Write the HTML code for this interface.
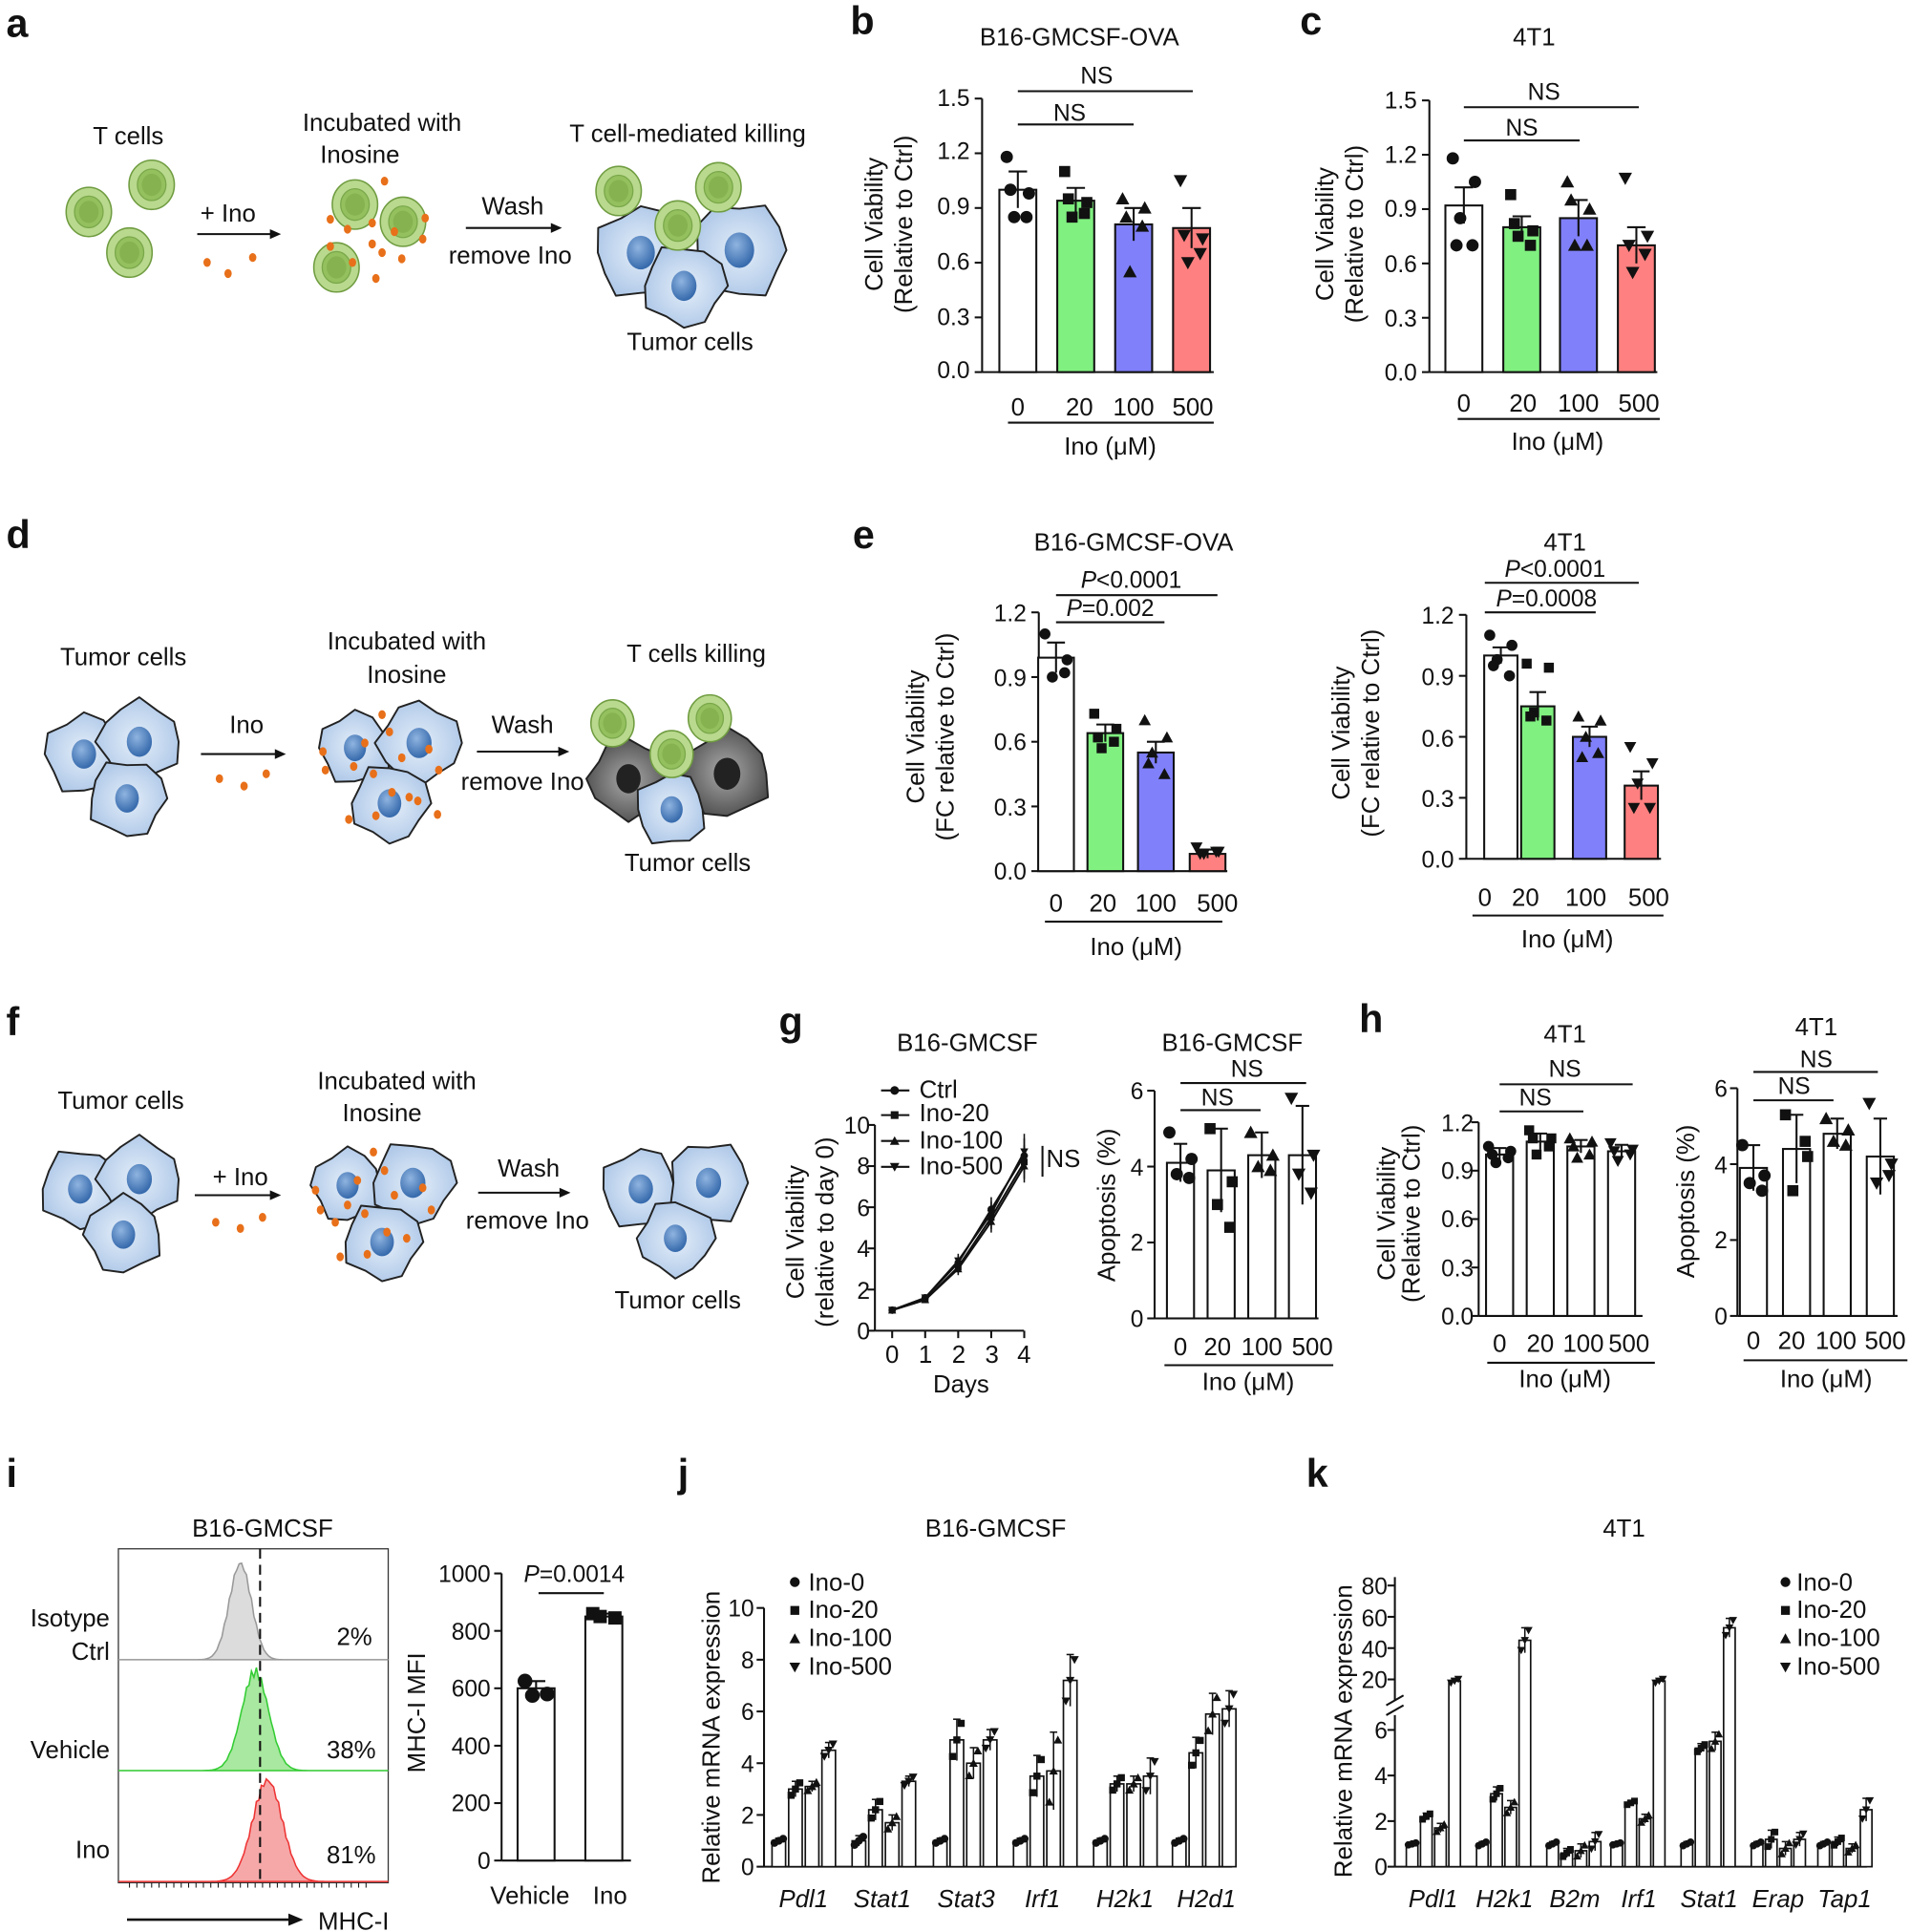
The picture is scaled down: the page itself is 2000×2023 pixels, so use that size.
<!DOCTYPE html>
<html><head><meta charset="utf-8"><style>
html,body{margin:0;padding:0;background:#fff}
svg{display:block}
text{font-family:"Liberation Sans",Arial,sans-serif;fill:#111}
.t{font-size:20px}.s{font-size:19px}.L{font-size:32px;font-weight:bold}.it{font-style:italic}
</style></head><body>
<svg id="s" xmlns="http://www.w3.org/2000/svg" width="2000" height="2023" viewBox="0 0 1550 1568">
<defs>
<radialGradient id="nuc" cx="0.4" cy="0.35" r="0.7"><stop offset="0" stop-color="#8fb4e0"/><stop offset="1" stop-color="#2f64a8"/></radialGradient>
<radialGradient id="cyt" cx="0.5" cy="0.5" r="0.6"><stop offset="0" stop-color="#e4eef9"/><stop offset="1" stop-color="#a9c4e6"/></radialGradient>
<radialGradient id="dk" cx="0.5" cy="0.5" r="0.6"><stop offset="0" stop-color="#aaa"/><stop offset="1" stop-color="#444"/></radialGradient>
</defs>
<g id="g"></g>
<text class="L" x="5" y="30">a</text><text class="L" x="690" y="28">b</text><text class="L" x="1055" y="28">c</text>
<text class="L" x="5" y="445">d</text><text class="L" x="692" y="445">e</text>
<text class="L" x="5" y="840">f</text><text class="L" x="632" y="840">g</text><text class="L" x="1103" y="838">h</text>
<text class="L" x="5" y="1207">i</text><text class="L" x="550" y="1207">j</text><text class="L" x="1060" y="1207">k</text>
<!-- a -->
<text class="t" x="104" y="117" text-anchor="middle">T cells</text>
<text class="t" x="310" y="106" text-anchor="middle">Incubated  with</text>
<text class="t" x="292" y="132" text-anchor="middle">Inosine</text>
<text class="t" x="558" y="115" text-anchor="middle">T cell-mediated killing</text>
<text class="t" x="185" y="180" text-anchor="middle">+ Ino</text>
<text class="t" x="416" y="174" text-anchor="middle">Wash</text>
<text class="t" x="414" y="214" text-anchor="middle">remove Ino</text>
<text class="t" x="560" y="284" text-anchor="middle">Tumor cells</text>
<!-- d -->
<text class="t" x="100" y="540" text-anchor="middle">Tumor cells</text>
<text class="t" x="330" y="527" text-anchor="middle">Incubated  with</text>
<text class="t" x="330" y="554" text-anchor="middle">Inosine</text>
<text class="t" x="565" y="537" text-anchor="middle">T cells killing</text>
<text class="t" x="200" y="595" text-anchor="middle">Ino</text>
<text class="t" x="424" y="595" text-anchor="middle">Wash</text>
<text class="t" x="424" y="641" text-anchor="middle">remove Ino</text>
<text class="t" x="558" y="707" text-anchor="middle">Tumor cells</text>
<!-- f -->
<text class="t" x="98" y="900" text-anchor="middle">Tumor cells</text>
<text class="t" x="322" y="884" text-anchor="middle">Incubated with</text>
<text class="t" x="310" y="910" text-anchor="middle">Inosine</text>
<text class="t" x="195" y="962" text-anchor="middle">+ Ino</text>
<text class="t" x="429" y="955" text-anchor="middle">Wash</text>
<text class="t" x="428" y="997" text-anchor="middle">remove Ino</text>
<text class="t" x="550" y="1062" text-anchor="middle">Tumor cells</text>
<!-- b -->
<text class="t" x="876" y="37" text-anchor="middle">B16-GMCSF-OVA</text>
<text class="s" x="890" y="68" text-anchor="middle">NS</text><text class="s" x="868" y="98" text-anchor="middle">NS</text>
<g class="s" text-anchor="end"><text x="787" y="86">1.5</text><text x="787" y="129">1.2</text><text x="787" y="174">0.9</text><text x="787" y="219">0.6</text><text x="787" y="264">0.3</text><text x="787" y="307">0.0</text></g>
<g class="t" text-anchor="middle"><text x="826" y="337">0</text><text x="876" y="337">20</text><text x="920" y="337">100</text><text x="968" y="337">500</text><text x="901" y="369">Ino (μM)</text></g>
<text class="t" transform="translate(716,182) rotate(-90)" text-anchor="middle">Cell Viability</text>
<text class="t" transform="translate(740,182) rotate(-90)" text-anchor="middle">(Relative to Ctrl)</text>
<!-- c -->
<text class="t" x="1245" y="37" text-anchor="middle">4T1</text>
<text class="s" x="1253" y="81" text-anchor="middle">NS</text><text class="s" x="1235" y="110" text-anchor="middle">NS</text>
<g class="s" text-anchor="end"><text x="1150" y="88">1.5</text><text x="1150" y="132">1.2</text><text x="1150" y="176">0.9</text><text x="1150" y="221">0.6</text><text x="1150" y="265">0.3</text><text x="1150" y="309">0.0</text></g>
<g class="t" text-anchor="middle"><text x="1188" y="334">0</text><text x="1236" y="334">20</text><text x="1281" y="334">100</text><text x="1330" y="334">500</text><text x="1264" y="365">Ino (μM)</text></g>
<text class="t" transform="translate(1082,190) rotate(-90)" text-anchor="middle">Cell Viability</text>
<text class="t" transform="translate(1106,190) rotate(-90)" text-anchor="middle">(Relative to Ctrl)</text>
<!-- e left -->
<text class="t" x="920" y="447" text-anchor="middle">B16-GMCSF-OVA</text>
<text class="s it" x="918" y="477" text-anchor="middle">P<tspan font-style="normal">&lt;0.0001</tspan></text>
<text class="s it" x="901" y="500" text-anchor="middle">P<tspan font-style="normal">=0.002</tspan></text>
<g class="s" text-anchor="end"><text x="833" y="504">1.2</text><text x="833" y="557">0.9</text><text x="833" y="609">0.6</text><text x="833" y="662">0.3</text><text x="833" y="714">0.0</text></g>
<g class="t" text-anchor="middle"><text x="857" y="740">0</text><text x="895" y="740">20</text><text x="938" y="740">100</text><text x="988" y="740">500</text><text x="922" y="775">Ino (μM)</text></g>
<text class="t" transform="translate(750,598) rotate(-90)" text-anchor="middle">Cell Viability</text>
<text class="t" transform="translate(774,598) rotate(-90)" text-anchor="middle">(FC relative to Ctrl)</text>
<!-- e right -->
<text class="t" x="1270" y="447" text-anchor="middle">4T1</text>
<text class="s it" x="1262" y="468" text-anchor="middle">P<tspan font-style="normal">&lt;0.0001</tspan></text>
<text class="s it" x="1255" y="492" text-anchor="middle">P<tspan font-style="normal">=0.0008</tspan></text>
<g class="s" text-anchor="end"><text x="1180" y="506">1.2</text><text x="1180" y="556">0.9</text><text x="1180" y="606">0.6</text><text x="1180" y="655">0.3</text><text x="1180" y="704">0.0</text></g>
<g class="t" text-anchor="middle"><text x="1205" y="735">0</text><text x="1238" y="735">20</text><text x="1287" y="735">100</text><text x="1338" y="735">500</text><text x="1272" y="769">Ino (μM)</text></g>
<text class="t" transform="translate(1095,595) rotate(-90)" text-anchor="middle">Cell Viability</text>
<text class="t" transform="translate(1119,595) rotate(-90)" text-anchor="middle">(FC relative to Ctrl)</text>
<!-- g left -->
<text class="t" x="785" y="853" text-anchor="middle">B16-GMCSF</text>
<g class="t"><text x="746" y="891">Ctrl</text><text x="746" y="910">Ino-20</text><text x="746" y="932">Ino-100</text><text x="746" y="953">Ino-500</text><text x="849" y="947">NS</text></g>
<g class="s" text-anchor="end"><text x="706" y="920">10</text><text x="706" y="953">8</text><text x="706" y="987">6</text><text x="706" y="1020">4</text><text x="706" y="1054">2</text><text x="706" y="1087">0</text></g>
<g class="t" text-anchor="middle"><text x="724" y="1106">0</text><text x="751" y="1106">1</text><text x="778" y="1106">2</text><text x="805" y="1106">3</text><text x="831" y="1106">4</text><text x="780" y="1130">Days</text></g>
<text class="t" transform="translate(652,1000) rotate(-90)" text-anchor="middle">Cell Viability</text>
<text class="t" transform="translate(676,1000) rotate(-90)" text-anchor="middle">(relative to day 0)</text>
<!-- g right -->
<text class="t" x="1000" y="853" text-anchor="middle">B16-GMCSF</text>
<text class="s" x="1012" y="874" text-anchor="middle">NS</text><text class="s" x="988" y="897" text-anchor="middle">NS</text>
<g class="s" text-anchor="end"><text x="928" y="892">6</text><text x="928" y="954">4</text><text x="928" y="1015">2</text><text x="928" y="1077">0</text></g>
<g class="t" text-anchor="middle"><text x="958" y="1100">0</text><text x="988" y="1100">20</text><text x="1024" y="1100">100</text><text x="1065" y="1100">500</text><text x="1013" y="1128">Ino (μM)</text></g>
<text class="t" transform="translate(905,978) rotate(-90)" text-anchor="middle">Apoptosis (%)</text>
<!-- h left -->
<text class="t" x="1270" y="846" text-anchor="middle">4T1</text>
<text class="s" x="1270" y="874" text-anchor="middle">NS</text><text class="s" x="1246" y="897" text-anchor="middle">NS</text>
<g class="s" text-anchor="end"><text x="1196" y="918">1.2</text><text x="1196" y="957">0.9</text><text x="1196" y="996">0.6</text><text x="1196" y="1036">0.3</text><text x="1196" y="1075">0.0</text></g>
<g class="t" text-anchor="middle"><text x="1217" y="1097">0</text><text x="1250" y="1097">20</text><text x="1285" y="1097">100</text><text x="1322" y="1097">500</text><text x="1270" y="1126">Ino (μM)</text></g>
<text class="t" transform="translate(1132,985) rotate(-90)" text-anchor="middle">Cell Viability</text>
<text class="t" transform="translate(1152,985) rotate(-90)" text-anchor="middle">(Relative to Ctrl)</text>
<!-- h right -->
<text class="t" x="1474" y="840" text-anchor="middle">4T1</text>
<text class="s" x="1474" y="866" text-anchor="middle">NS</text><text class="s" x="1456" y="888" text-anchor="middle">NS</text>
<g class="s" text-anchor="end"><text x="1402" y="890">6</text><text x="1402" y="952">4</text><text x="1402" y="1013">2</text><text x="1402" y="1075">0</text></g>
<g class="t" text-anchor="middle"><text x="1423" y="1095">0</text><text x="1454" y="1095">20</text><text x="1490" y="1095">100</text><text x="1530" y="1095">500</text><text x="1482" y="1126">Ino (μM)</text></g>
<text class="t" transform="translate(1375,975) rotate(-90)" text-anchor="middle">Apoptosis (%)</text>
<!-- i -->
<text class="t" x="213" y="1247" text-anchor="middle">B16-GMCSF</text>
<g class="t" text-anchor="end"><text x="89" y="1320">Isotype</text><text x="89" y="1347">Ctrl</text><text x="89" y="1427">Vehicle</text><text x="89" y="1508">Ino</text></g>
<g class="t" text-anchor="end"><text x="302" y="1335">2%</text><text x="305" y="1427">38%</text><text x="305" y="1512">81%</text></g>
<text class="t" x="258" y="1566">MHC-I</text>
<text class="s it" x="466" y="1284" text-anchor="middle">P<tspan font-style="normal">=0.0014</tspan></text>
<g class="s" text-anchor="end"><text x="398" y="1284">1000</text><text x="398" y="1331">800</text><text x="398" y="1377">600</text><text x="398" y="1424">400</text><text x="398" y="1470">200</text><text x="398" y="1517">0</text></g>
<g class="t" text-anchor="middle"><text x="430" y="1545">Vehicle</text><text x="495" y="1545">Ino</text></g>
<text class="t" transform="translate(345,1390) rotate(-90)" text-anchor="middle">MHC-I MFI</text>
<!-- j -->
<text class="t" x="808" y="1247" text-anchor="middle">B16-GMCSF</text>
<g class="t"><text x="656" y="1291">Ino-0</text><text x="656" y="1313">Ino-20</text><text x="656" y="1336">Ino-100</text><text x="656" y="1359">Ino-500</text></g>
<g class="s" text-anchor="end"><text x="612" y="1312">10</text><text x="612" y="1354">8</text><text x="612" y="1396">6</text><text x="612" y="1438">4</text><text x="612" y="1480">2</text><text x="612" y="1522">0</text></g>
<g class="t it" text-anchor="middle"><text x="652" y="1548">Pdl1</text><text x="716" y="1548">Stat1</text><text x="784" y="1548">Stat3</text><text x="846" y="1548">Irf1</text><text x="913" y="1548">H2k1</text><text x="979" y="1548">H2d1</text></g>
<text class="t" transform="translate(584,1410) rotate(-90)" text-anchor="middle">Relative mRNA expression</text>
<!-- k -->
<text class="t" x="1318" y="1247" text-anchor="middle">4T1</text>
<g class="t"><text x="1458" y="1291">Ino-0</text><text x="1458" y="1313">Ino-20</text><text x="1458" y="1336">Ino-100</text><text x="1458" y="1359">Ino-500</text></g>
<g class="s" text-anchor="end"><text x="1126" y="1294">80</text><text x="1126" y="1320">60</text><text x="1126" y="1345">40</text><text x="1126" y="1370">20</text><text x="1126" y="1411">6</text><text x="1126" y="1448">4</text><text x="1126" y="1485">2</text><text x="1126" y="1522">0</text></g>
<g class="t it" text-anchor="middle"><text x="1163" y="1548">Pdl1</text><text x="1221" y="1548">H2k1</text><text x="1278" y="1548">B2m</text><text x="1330" y="1548">Irf1</text><text x="1387" y="1548">Stat1</text><text x="1443" y="1548">Erap</text><text x="1497" y="1548">Tap1</text></g>
<text class="t" transform="translate(1097,1405) rotate(-90)" text-anchor="middle">Relative mRNA expression</text>
</svg>
<script>
const ns="http://www.w3.org/2000/svg",G=document.getElementById('g');
function el(t,a,p){const e=document.createElementNS(ns,t);for(const k in a)e.setAttribute(k,a[k]);(p||G).appendChild(e);return e}
function ln(x1,y1,x2,y2,w,c,d){const o={x1,y1,x2,y2,stroke:c||'#111','stroke-width':w||1.6};if(d)o['stroke-dasharray']=d;el('line',o)}
function mk(x,y,t,r){r=r||5;const f='#111';
 if(t==0)el('circle',{cx:x,cy:y,r:r,fill:f});
 else if(t==1)el('rect',{x:x-r*0.9,y:y-r*0.9,width:r*1.8,height:r*1.8,fill:f});
 else if(t==2)el('polygon',{points:`${x},${y-r*1.1} ${x-r*1.1},${y+r*0.9} ${x+r*1.1},${y+r*0.9}`,fill:f});
 else el('polygon',{points:`${x},${y+r*1.1} ${x-r*1.1},${y-r*0.9} ${x+r*1.1},${y-r*0.9}`,fill:f});}
const COL=['#fff','#80f080','#8080fa','#ff8080'];
const JIT=[-9,9,-3,7,-6,4];
function chart(o){const Y=v=>o.yb-v*o.k;
 ln(o.ax,Y(o.tmax),o.ax,o.yb);o.ticks.forEach(t=>ln(o.ax-6,Y(t),o.ax,Y(t)));
 ln(o.ax,o.yb,o.xend,o.yb);
 o.bars.forEach((b,i)=>{const [cx,v,e,pts]=b;const w=o.w;
  el('rect',{x:cx-w/2,y:Y(v),width:w,height:o.yb-Y(v),fill:o.col?COL[i%4]:'#fff',stroke:'#111','stroke-width':1.6});
  ln(cx,Y(v-e),cx,Y(v+e));ln(cx-w*0.25,Y(v+e),cx+w*0.25,Y(v+e));
  (pts||[]).forEach((p,j)=>mk(cx+JIT[j]*(o.js||1),Y(p),o.shape!=null?o.shape:i%4,o.r));});
 return Y;}
let Y=chart({ax:797,yb:302,k:148,tmax:1.5,ticks:[0,.3,.6,.9,1.2,1.5],xend:985,w:30,col:1,bars:[
[826,1,.1,[1.18,.98,.85,.85,1.0]],[873,.94,.07,[1.1,.93,.85,.87,.95]],[920,.81,.09,[.95,.9,.55,.8,.85]],[967,.79,.11,[1.05,.73,.6,.65,.75]]]});
ln(826,74,968,74);ln(826,101,920,101);ln(818,343,985,343);
Y=chart({ax:1160,yb:302,k:147,tmax:1.5,ticks:[0,.3,.6,.9,1.2,1.5],xend:1345,w:30,col:1,bars:[
[1188,.92,.1,[1.18,1.05,.85,.7,.7]],[1235,.8,.06,[.98,.78,.75,.7,.82]],[1281,.85,.1,[1.05,.9,.7,.7,.95]],[1328,.7,.1,[1.07,.75,.55,.65,.7]]]});
ln(1188,87,1330,87);ln(1188,114,1282,114);ln(1183,340,1347,340);
Y=chart({ax:843,yb:707,k:175,tmax:1.2,ticks:[0,.3,.6,.9,1.2],xend:996,w:29,col:1,r:4.5,bars:[
[857,.99,.07,[1.1,.98,.9,.92]],[897,.64,.04,[.73,.66,.57,.6,.62]],[938,.55,.05,[.7,.62,.55,.45,.5]],[980,.08,.02,[.11,.09,.08,.09,.08]]]});
ln(857,483,988,483);ln(857,505,945,505);ln(848,748,992,748);
Y=chart({ax:1190,yb:697,k:165,tmax:1.2,ticks:[0,.3,.6,.9,1.2],xend:1348,w:27,col:1,r:4.5,bars:[
[1218,1,.04,[1.1,1.05,.98,.9,.95]],[1248,.75,.07,[.96,.94,.72,.68,.7]],[1290,.6,.05,[.7,.68,.6,.52,.5]],[1332,.36,.07,[.55,.47,.37,.25,.25]]]});
ln(1205,473,1330,473);ln(1205,497,1295,497);ln(1195,743,1350,743);
{const Yg=v=>1080-v*16.7,X=d=>724+26.8*d;ln(710,Yg(10),710,1080);[0,2,4,6,8,10].forEach(t=>ln(704,Yg(t),710,Yg(t)));
 ln(710,1080,831,1080);[0,1,2,3,4].forEach(d=>ln(X(d),1080,X(d),1086));
 const S=[[1,1.6,3.3,5.9,8.5],[1,1.5,3.1,5.5,8.2],[1,1.5,3.0,5.3,8.0],[1,1.6,3.4,5.7,8.7]];
 S.forEach((s,i)=>{el('polyline',{points:s.map((v,d)=>X(d)+','+Yg(v)).join(' '),fill:'none',stroke:'#111','stroke-width':1.6});
  s.forEach((v,d)=>{mk(X(d),Yg(v),i,3);ln(X(d),Yg(v*0.9),X(d),Yg(v*1.1),1.2)});});
 [885,905,926,947].forEach((y,i)=>{ln(715,y,738,y);mk(726,y,i,3.5)});ln(846,930,846,955);}
chart({ax:937,yb:1070,k:30.8,tmax:6,ticks:[0,2,4,6],xend:1070,w:22,r:5,bars:[
[958,4.1,.5,[4.9,4.2,3.8,3.7]],[991,3.9,1.1,[5.0,3.6,3.0,2.4]],[1024,4.3,.6,[4.9,4.3,4.0,3.9]],[1057,4.3,1.3,[5.8,4.3,3.8,3.3]]]});
ln(958,879,1060,879);ln(958,901,1023,901);ln(945,1108,1082,1108);
chart({ax:1200,yb:1068,k:131,tmax:1.2,ticks:[0,.3,.6,.9,1.2],xend:1333,w:22,r:4.5,bars:[
[1217,1.0,.04,[1.05,1.02,.95,.98,1.0]],[1250,1.08,.05,[1.15,1.1,1.0,1.05,1.1]],[1283,1.05,.04,[1.1,1.08,.98,1.0,1.05]],[1316,1.02,.04,[1.07,1.03,.96,1.0,1.02]]]});
ln(1217,880,1325,880);ln(1217,902,1285,902);ln(1207,1106,1343,1106);
chart({ax:1410,yb:1068,k:30.8,tmax:6,ticks:[0,2,4,6],xend:1540,w:22,r:5,bars:[
[1423,3.9,.6,[4.5,3.7,3.5,3.3]],[1458,4.4,.9,[5.3,4.2,3.3,4.6]],[1491,4.8,.4,[5.2,4.9,4.6,4.5]],[1526,4.2,1.0,[5.6,4.0,3.5,3.7]]]});
ln(1423,870,1524,870);ln(1423,893,1488,893);ln(1415,1104,1548,1104);
chart({ax:407,yb:1510,k:.233,tmax:1000,ticks:[0,200,400,600,800,1000],xend:512,w:30,r:6,bars:[
[435,600,25,[625,580,575]],[490,850,10,[860,845,850]]]});
ln(437,1293,490,1293);
el('rect',{x:96,y:1257,width:219,height:271,fill:'none',stroke:'#333','stroke-width':1});
ln(96,1347,315,1347,1,'#ccc');ln(96,1437,315,1437,1,'#ccc');
function hist(c,base,h,sd,fill,stroke){let p=`M96,${base}`;for(let x=96;x<=315;x+=2){const y=base-h*Math.exp(-((x-c)**2)/(2*sd*sd))*(1+0.05*Math.sin(x*1.7));p+=` L${x},${y.toFixed(1)}`}p+=` L315,${base} Z`;el('path',{d:p,fill:fill,stroke:stroke,'stroke-width':1.2})}
hist(195,1347,78,9,'#dcdcdc','#999');hist(207,1437,80,11,'#a8e8a0','#33cc33');hist(217,1527,82,12,'#f6a8a8','#ee3333');
ln(211,1257,211,1528,1.6,'#111','8,5');
for(let x=105;x<300;x+=6)ln(x,1528,x,1532,0.8);
el('line',{x1:103,y1:1558,x2:238,y2:1558,stroke:'#111','stroke-width':2});el('polygon',{points:'246,1558 234,1553 234,1563',fill:'#111'});
{const Yj=v=>1515-v*21;ln(620,Yj(10),620,1515);[0,2,4,6,8,10].forEach(t=>ln(614,Yj(t),620,Yj(t)));ln(620,1515,1000,1515);
 const D=[[632,[1,3,3.1,4.5],[.1,.3,.2,.3]],[697,[1,2.2,1.7,3.3],[.2,.4,.3,.2]],[763,[1,4.9,4,4.9],[.1,.8,.6,.4]],[828,[1,3.5,3.7,7.2],[.1,.8,1.5,1]],[893,[1,3.2,3.2,3.5],[.1,.3,.3,.7]],[957,[1,4.4,5.9,6.1],[.1,.6,.8,.7]]];
 D.forEach(([x0,vs,es])=>vs.forEach((v,i)=>{const cx=x0+i*13.5;el('rect',{x:cx-5.5,y:Yj(v),width:11,height:1515-Yj(v),fill:'#fff',stroke:'#111','stroke-width':1.3});
  ln(cx,Yj(v-es[i]),cx,Yj(v+es[i]),1.2);ln(cx-3,Yj(v+es[i]),cx+3,Yj(v+es[i]),1.2);
  [-1,0,1].forEach(k=>mk(cx+k*3.5,Yj(v+k*es[i]*0.8),i,3.2));}));
 [1284,1307,1330,1353].forEach((y,i)=>mk(645,y,i,4));}
{const Yk=v=>v<=6?1515-v*18.5:1363-(v-20)*1.27;ln(1132,1280,1132,1380);ln(1132,1392,1132,1515);
 [20,40,60,80].forEach(t=>ln(1126,Yk(t),1132,Yk(t)));[0,2,4,6].forEach(t=>ln(1126,Yk(t),1132,Yk(t)));
 ln(1125,1384,1139,1376);ln(1125,1392,1139,1384);ln(1132,1515,1515,1515);
 const D=[[1146,[1,2.2,1.7,19],[.05,.15,.2,1.5]],[1203,[1,3.2,2.6,45],[.1,.3,.3,8]],[1260,[1,.6,.7,1.1],[.1,.2,.3,.4]],[1312,[1,2.8,2.1,19],[.05,.1,.2,1.5]],[1369,[1,5.2,5.5,53],[.1,.2,.4,6]],[1426,[1,1.2,.8,1.2],[.1,.4,.3,.3]],[1480,[1,1.1,.8,2.5],[.1,.2,.2,.5]]];
 D.forEach(([x0,vs,es])=>vs.forEach((v,i)=>{const cx=x0+i*11.5;el('rect',{x:cx-4.7,y:Yk(v),width:9.4,height:1515-Yk(v),fill:'#fff',stroke:'#111','stroke-width':1.3});
  ln(cx,Yk(Math.max(0,v-es[i])),cx,Yk(v+es[i]),1.2);ln(cx-3,Yk(v+es[i]),cx+3,Yk(v+es[i]),1.2);
  [-1,0,1].forEach(k=>mk(cx+k*3,Yk(v+k*es[i]*0.8),i,3));}));
 [1284,1307,1330,1353].forEach((y,i)=>mk(1449,y,i,4));}
// diagrams
function gc(x,y,r){el('ellipse',{cx:x,cy:y,rx:r*0.92,ry:r,fill:'#b9d98e',stroke:'#6f9c40','stroke-width':1.2});el('ellipse',{cx:x,cy:y,rx:r*0.58,ry:r*0.64,fill:'#94c05e',stroke:'#7aa84a'});el('ellipse',{cx:x,cy:y,rx:r*0.4,ry:r*0.45,fill:'#86b250'});}
function tc(x,y,s,dark){const p=[];for(let a=0;a<12;a++){const t=a/12*Math.PI*2,rr=s*(1+0.12*Math.sin(a*2.3+x));p.push((x+rr*0.95*Math.cos(t)).toFixed(1)+','+(y+rr*0.95*Math.sin(t)).toFixed(1))}
 el('polygon',{points:p.join(' '),fill:dark?'url(#dk)':'url(#cyt)',stroke:'#222','stroke-width':1.5,'stroke-linejoin':'round'});
 el('ellipse',{cx:x,cy:y,rx:s*0.3,ry:s*0.36,fill:dark?'#222':'url(#nuc)'});}
function od(pts){pts.forEach(([x,y])=>el('ellipse',{cx:x,cy:y,rx:3,ry:3.6,fill:'#e8701a'}))}
function arr(x1,x2,y){ln(x1,y,x2-6,y,1.6);el('polygon',{points:`${x2},${y} ${x2-9},${y-4} ${x2-9},${y+4}`,fill:'#111'})}
// a
gc(72,172,20);gc(123,150,20);gc(105,205,20);arr(160,228,190);od([[168,213],[185,222],[205,209]]);
gc(288,166,20);gc(327,180,20);gc(273,217,20);
od([[312,147],[268,178],[282,186],[302,181],[302,198],[320,188],[345,177],[268,200],[286,213],[310,205],[326,210],[305,226],[343,194]]);
arr(378,456,185);
tc(520,205,38);tc(600,203,40);tc(555,232,34);gc(502,155,20);gc(583,152,20);gc(550,183,20);
// d
tc(68,612,33);tc(113,602,34);tc(103,648,32);arr(163,232,612);od([[178,632],[198,638],[216,628]]);
tc(288,607,30);tc(340,603,34);tc(316,652,32);
od([[310,580],[262,610],[296,603],[287,622],[303,628],[316,594],[326,615],[348,608],[356,625],[264,625],[318,643],[332,647],[339,650],[355,661],[283,665],[305,662]]);
arr(387,462,610);tc(510,632,33,1);tc(590,628,36,1);tc(545,657,30);gc(497,587,19);gc(576,583,19);gc(545,612,19);
// f
tc(65,965,33);tc(113,957,34);tc(100,1002,32);arr(158,228,970);od([[175,992],[195,997],[213,988]]);
tc(282,962,30);tc(335,960,34);tc(310,1008,32);
od([[303,935],[256,966],[290,958],[282,978],[296,985],[312,950],[320,970],[343,964],[350,982],[260,982],[314,1000],[330,1005],[276,1020],[298,1018],[272,992]]);
arr(388,463,968);tc(520,965,33);tc(575,960,34);tc(548,1005,31);
</script>
</body></html>
